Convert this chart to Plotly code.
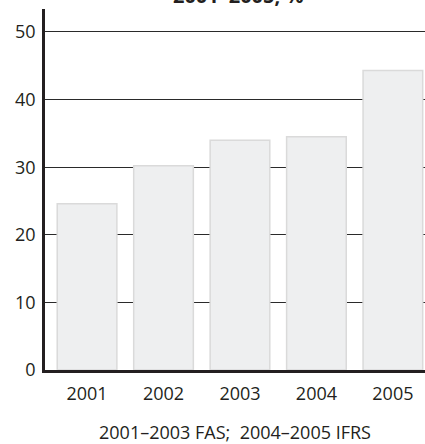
import plotly.graph_objects as go

years = ["2001", "2002", "2003", "2004", "2005"]
values = [24.6, 30.2, 34.0, 34.5, 44.3]
y_ticks = [0, 10, 20, 30, 40, 50]
title_text = "2001–2005, %"
x_title = "2001–2003 FAS;  2004–2005 IFRS"

FONT = "Open Sans"

fig = go.Figure(go.Bar(
    x=years, y=values, width=0.78,
    marker=dict(color="#eeeff0", line=dict(color="#dadada", width=1.5)),
    hoverinfo="skip",
))

fig.update_layout(
    width=425, height=444,
    margin=dict(l=45, r=0, t=9, b=74),
    paper_bgcolor="white", plot_bgcolor="white",
    showlegend=False,
    font=dict(family=FONT, size=18, color="#231f20"),
    xaxis=dict(
        type="category", range=[-0.55, 4.42], automargin=False,
        showgrid=False, showline=True, linecolor="#231f20", linewidth=2.5,
        ticks="", tickfont=dict(size=18), ticklabelstandoff=6,
        title=dict(text=x_title, font=dict(size=18), standoff=24),
        zeroline=False,
    ),
    yaxis=dict(
        range=[0, 53.4], tickvals=y_ticks, automargin=False,
        showgrid=True, gridcolor="#2a2a2a", gridwidth=1,
        showline=True, linecolor="#231f20", linewidth=2.5,
        ticks="", tickfont=dict(size=18), ticklabelstandoff=3,
        zeroline=False,
    ),
    annotations=[dict(
        text="<b>" + title_text + "</b>", xref="paper", yref="paper",
        x=0.508, y=1.0, yanchor="bottom", xanchor="center", showarrow=False,
        font=dict(size=20, color="#231f20"), yshift=-2,
    )],
)

fig.write_html(
    "out.html",
    config={"displayModeBar": False},
    post_script="document.body.style.margin='0';document.body.style.overflow='hidden';",
)
